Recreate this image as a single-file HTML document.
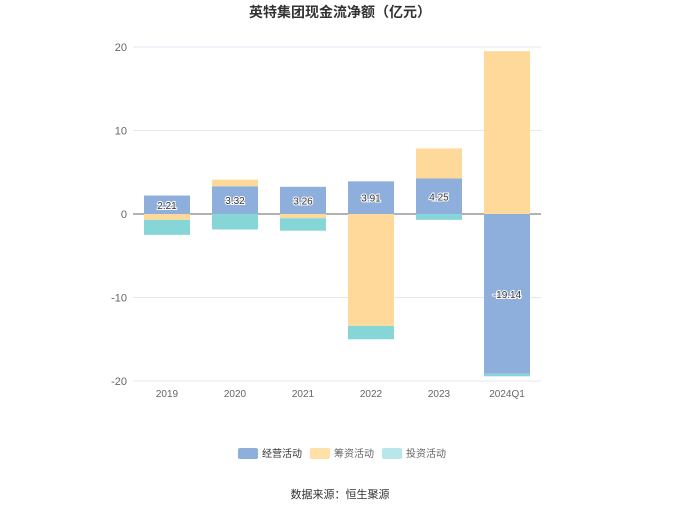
<!DOCTYPE html>
<html><head><meta charset="utf-8"><style>
body{margin:0;background:#fff;font-family:"Liberation Sans","Noto Sans CJK SC",sans-serif;}
</style></head><body>
<svg width="680" height="509" xmlns="http://www.w3.org/2000/svg" font-family="Liberation Sans, Noto Sans CJK SC, sans-serif">
<text x="340" y="17" text-anchor="middle" font-size="14" font-weight="bold" fill="#333">英特集团现金流净额（亿元）</text>
<g id="grid"></g><g id="bars"></g><g id="labels"></g>
<g font-size="10" fill="#333">
<rect x="238" y="448" width="20" height="11" rx="2" fill="#8eaedc"/>
<text x="262" y="457">经营活动</text>
<rect x="310" y="448" width="20" height="11" rx="2" fill="#ffe0a8"/>
<text x="334" y="457" fill="#666">筹资活动</text>
<rect x="382" y="448" width="20" height="11" rx="2" fill="#b8e6ea"/>
<text x="406" y="457" fill="#666">投资活动</text>
</g>
<text x="340" y="498" text-anchor="middle" font-size="11" fill="#333">数据来源：恒生聚源</text>
</svg>
<script>
const categories=["2019","2020","2021","2022","2023","2024Q1"];
const operating=[2.21,3.32,3.26,3.91,4.25,-19.14];
const financing=[-0.7,0.8,-0.5,-13.4,3.6,19.5];
const investing=[-1.8,-1.85,-1.5,-1.6,-0.7,-0.3];
const yTicks=[20,10,0,-10,-20];
const NS="http://www.w3.org/2000/svg";
const x0=133,x1=541,yTop=47,yBot=381,vMax=20,vMin=-20;
const y=v=>yTop+(vMax-v)/(vMax-vMin)*(yBot-yTop);
const bw=(x1-x0)/categories.length;
const cx=i=>x0+bw*(i+0.5);
function mk(tag,attrs,parent){const e=document.createElementNS(NS,tag);for(const k in attrs)e.setAttribute(k,attrs[k]);parent.appendChild(e);return e;}
const grid=document.getElementById('grid'),bars=document.getElementById('bars'),labels=document.getElementById('labels');
yTicks.forEach(t=>{
 const l=mk('line',{x1:x0,x2:x1,y1:y(t),y2:y(t),stroke:t===0?'#666':'#e6e6f0','stroke-width':1},grid);
 
 
 const tx=mk('text',{x:x0-6,y:y(t)+4,'text-anchor':'end','font-size':11,fill:'#666'},grid);
 tx.textContent=t;
 
 
});
const series=[[operating,'#8eaedc','operating'],[financing,'#ffd99a','financing'],[investing,'#86d6d8','investing']];
categories.forEach((c,i)=>{
 let pos=0,neg=0;
 series.forEach(([arr,col,nm])=>{
  const v=arr[i];let a,b;
  if(v>=0){a=pos;b=pos+v;pos=b;}else{a=neg;b=neg+v;neg=b;}
  const r=mk('rect',{x:cx(i)-23,width:46,y:Math.min(y(a),y(b)),height:Math.abs(y(a)-y(b)),fill:col},bars);
  
  
 });
 const v=operating[i];
 const lt=mk('text',{x:cx(i),y:y(v/2)+4,'text-anchor':'middle','font-size':10,fill:'#333',stroke:'#fff','stroke-width':2,'paint-order':'stroke'},labels);
 lt.textContent=v.toFixed(2);
 
 
 const xt=mk('text',{x:cx(i),y:yBot+16,'text-anchor':'middle','font-size':10,fill:'#666'},labels);
 xt.textContent=c;
 
 
});
</script>
</body></html>
